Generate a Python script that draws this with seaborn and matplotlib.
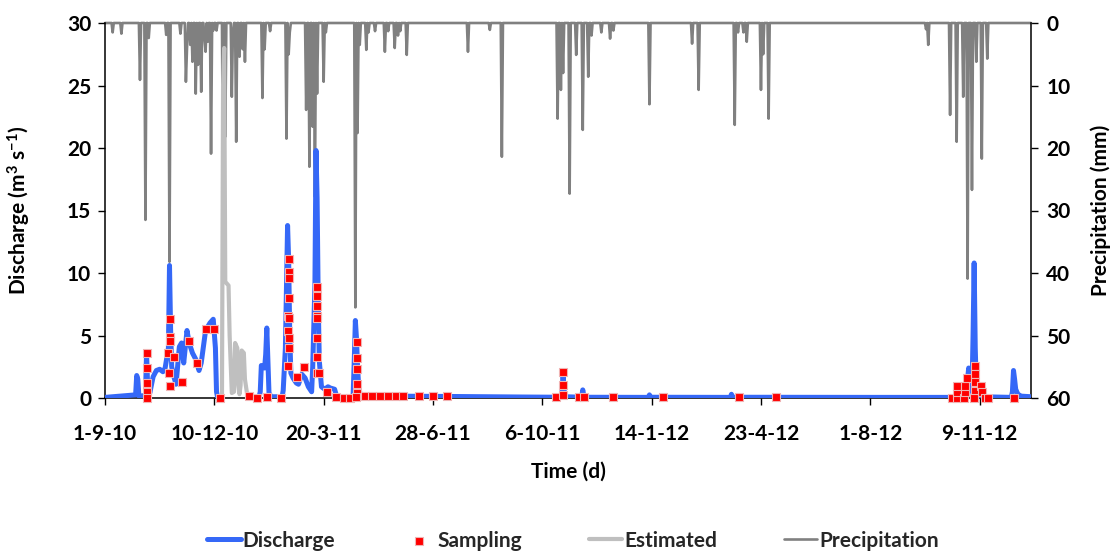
import numpy as np
import pandas as pd
import matplotlib
matplotlib.use("Agg")
import matplotlib.pyplot as plt
import seaborn as sns

# ---------------------------------------------------------------------------
# Data: days counted from 1 Sep 2010
# ---------------------------------------------------------------------------
START = pd.Timestamp("2010-09-01")
LAST_DAY = 847

# Measured discharge (m3 s-1); NaN marks the gap filled by the estimate
discharge_day = [0, 28, 29, 30, 31, 37, 38, 39, 41, 44, 47, 50, 53, 55, 58, 59, 60, 61, 63, 65,
                 68, 70, 72, 75, 77, 80, 83, 86, 88, 92, 96, 99, 101, 102, 103, 105, 106,
                 131, 141, 142, 143, 146, 147, 148, 149, 150, 152, 162, 163, 165, 167, 168, 169,
                 170, 172, 175, 177, 180, 183, 186, 189, 190, 192, 193, 194, 195, 196, 198, 201,
                 204, 206, 210, 212, 226, 227, 228, 229, 230, 231, 232, 233, 236, 260, 320, 380,
                 417, 418, 419, 420, 421, 436, 437, 438, 440, 497, 498, 499, 572, 573, 574, 700,
                 786, 788, 789, 790, 791, 793, 794, 795, 796, 797, 799, 802, 829, 830, 831, 832,
                 833, 835, 838, 847]
discharge_q = [0.05, 0.25, 1.8, 1.5, 0.15, 0.2, 3.6, 1.0, 0.4, 1.7, 2.2, 2.3, 2.1, 2.4, 4.0, 10.6, 5.5, 2.5, 1.7, 1.1,
               4.1, 4.4, 2.8, 5.4, 4.4, 3.6, 3.1, 2.2, 2.8, 5.4, 6.0, 6.3, 4.0, 0.5, 0.05, 0.05, np.nan,
               0.1, 0.1, 0.5, 2.6, 2.4, 3.5, 5.6, 3.0, 0.4, 0.1, 0.1, 0.6, 4.0, 13.8, 11.0, 5.0,
               2.0, 1.6, 1.2, 1.1, 1.9, 1.6, 0.9, 0.5, 2.5, 9.0, 19.8, 16.0, 8.0, 3.0, 0.9, 0.7,
               0.9, 0.8, 0.7, 0.1, 0.1, 0.3, 3.0, 6.2, 4.8, 2.5, 1.0, 0.4, 0.2, 0.15, 0.12, 0.08,
               0.06, 0.4, 1.9, 0.6, 0.1, 0.06, 0.65, 0.15, 0.06, 0.05, 0.25, 0.06, 0.05, 0.3, 0.06, 0.05,
               0.05, 0.3, 1.5, 2.4, 1.0, 0.5, 5.0, 10.8, 4.0, 0.8, 0.2, 0.1, 0.05, 0.5, 2.2, 1.5,
               0.7, 0.3, 0.15, 0.1]

# Estimated discharge during the logger gap (m3 s-1)
estimated_day = [105, 107, 108, 109, 110, 113, 114, 116, 118, 119, 121, 122, 123, 124, 125, 127, 128, 130, 131]
estimated_q = [0.05, 0.2, 25.0, 28.0, 9.3, 9.0, 5.0, 0.4, 0.5, 4.4, 4.0, 1.0, 0.3, 1.0, 3.8, 3.6, 1.5, 0.3, 0.1]

# Sampling events (day, discharge at sampling)
sampling_day = [38.4, 38.4, 38.4, 38.4, 38.4,
                59.4, 59.6, 59.8, 58.0, 63.1, 58.8, 59.8,
                70.1, 77.1, 84.4, 92.4, 99.7, 105.2,
                131.7, 139.0, 148.4, 161.0,
                168.0, 168.2, 168.3, 168.0, 167.8, 168.3, 167.8, 168.0, 167.9, 167.6,
                175.3, 182.0,
                193.5, 193.5, 193.6, 193.6, 193.5, 193.6, 193.6, 193.6, 196.0,
                202.7, 211.2, 218.6, 224.0,
                230.6, 230.6, 230.6, 230.4, 230.4, 229.8,
                237.8, 243.9, 251.5, 259.1, 266.1, 272.8, 287.4, 299.7, 313.0,
                412.4, 419.1, 419.1, 419.1, 433.7, 438.0, 464.8, 510.0, 579.8, 613.4,
                774.5, 778.9, 779.5, 779.5, 786.0, 787.0, 787.0, 788.5, 795.5, 795.5, 795.5, 795.5,
                795.0, 801.5, 802.5, 804.5, 808.0, 831.0]
sampling_q = [3.6, 2.4, 1.2, 0.5, 0.0,
              6.3, 4.9, 4.6, 3.6, 3.3, 2.0, 1.0,
              1.3, 4.6, 2.8, 5.5, 5.5, 0.0,
              0.15, 0.0, 0.05, 0.0,
              11.1, 10.1, 9.6, 8.0, 6.6, 6.4, 5.4, 4.8, 4.0, 2.6,
              1.7, 2.5,
              8.85, 8.2, 7.4, 6.6, 6.4, 4.8, 3.3, 2.0, 2.0,
              0.5, 0.05, 0.0, 0.0,
              4.5, 3.2, 2.3, 1.1, 0.4, 0.1,
              0.15, 0.15, 0.15, 0.15, 0.15, 0.15, 0.15, 0.15, 0.15,
              0.05, 2.1, 1.04, 0.24, 0.05, 0.05, 0.05, 0.05, 0.05, 0.05,
              0.0, 0.0, 0.5, 1.0, 0.0, 0.5, 1.0, 1.6, 2.6, 1.9, 1.3, 0.6,
              0.0, 1.0, 0.5, 0.0, 0.0, 0.0]

# Daily precipitation (mm); days not listed had no rain
rain_day = [7, 15, 32, 37, 40, 56, 59, 69, 74, 75, 78, 80, 83, 85, 88, 91, 92, 94, 97, 99, 102,
            108, 110, 116, 117, 120, 123, 126, 128, 144, 146, 151, 166, 168, 169, 184, 187, 190,
            192, 194, 200, 202, 229, 231, 233, 239, 241, 247, 256, 259, 265, 268, 270, 276, 332,
            352, 363, 414, 417, 419, 425, 431, 437, 442, 445, 454, 462, 465, 498, 537, 543, 576,
            579, 584, 587, 600, 602, 607, 751, 753, 773, 779, 785, 789, 793, 797, 802, 807]
rain_mm = [1.5, 1.7, 9.1, 31.5, 2.4, 1.9, 38.2, 1.7, 9.4, 4.1, 3.5, 6.2, 11.3, 6.7, 11.0, 2.5, 4.6, 3.0, 20.9, 1.2, 1.2,
           28.0, 18.2, 11.8, 1.5, 19.0, 5.4, 4.2, 6.2, 12.0, 4.2, 1.3, 18.5, 5.0, 1.5, 13.9, 23.0, 16.6,
           27.8, 11.3, 9.4, 1.5, 45.5, 17.6, 3.5, 4.3, 1.5, 1.3, 4.6, 1.3, 4.0, 2.0, 1.3, 5.1, 4.6,
           1.1, 21.4, 15.3, 10.7, 8.0, 27.3, 5.1, 17.1, 8.6, 2.0, 1.5, 2.5, 1.2, 13.0, 3.3, 10.7, 16.3,
           1.5, 1.5, 3.0, 10.7, 5.0, 15.3, 1.0, 3.5, 14.7, 19.0, 11.8, 40.9, 26.7, 6.2, 21.7, 5.7]

tick_labels = ["1-9-10", "10-12-10", "20-3-11", "28-6-11", "6-10-11",
               "14-1-12", "23-4-12", "1-8-12", "9-11-12"]

# ---------------------------------------------------------------------------
# Tables for seaborn
# ---------------------------------------------------------------------------
def to_dates(days):
    return START + pd.to_timedelta(np.asarray(days, dtype=float), unit="D")

dis = pd.DataFrame({"day": discharge_day, "q": discharge_q})
dis["segment"] = dis["q"].isna().cumsum()
dis = dis.dropna()
dis["date"] = to_dates(dis["day"])

est = pd.DataFrame({"date": to_dates(estimated_day), "q": estimated_q})
smp = pd.DataFrame({"date": to_dates(sampling_day), "q": sampling_q})

rain_daily = pd.Series(0.0, index=np.arange(LAST_DAY + 1))
rain_daily.loc[rain_day] = rain_mm
rain = pd.DataFrame({"date": to_dates(rain_daily.index), "mm": rain_daily.values})

# ---------------------------------------------------------------------------
# Figure
# ---------------------------------------------------------------------------
sns.set_theme(style="white")
plt.rcParams["font.family"] = ["Lato", "DejaVu Sans"]
plt.rcParams["font.weight"] = "bold"
plt.rcParams["mathtext.default"] = "regular"

FS = 15
BLUE = "#3568F7"
EST = "#BFBFBF"
RAIN = "#808080"

fig = plt.figure(figsize=(11.15, 5.54), dpi=100)
ax = fig.add_axes([105 / 1115, 1 - 398 / 554, 926 / 1115, 375 / 554])
ax2 = ax.twinx()
# discharge axis drawn in front of the precipitation axis
ax.set_zorder(ax2.get_zorder() + 1)
ax.patch.set_visible(False)

sns.lineplot(data=est, x="date", y="q", ax=ax, color=EST, lw=3.0,
             estimator=None, sort=False, label="Estimated", zorder=2)
sns.lineplot(data=dis, x="date", y="q", units="segment", estimator=None, sort=False,
             ax=ax, color=BLUE, lw=3.6, label="Discharge", zorder=3)
sns.scatterplot(data=smp, x="date", y="q", ax=ax, marker="s", s=36, color="#FF0000",
                edgecolor="#F0B4B4", linewidth=0.8, label="Sampling", zorder=5, clip_on=False)
sns.lineplot(data=rain, x="date", y="mm", ax=ax2, color=RAIN, lw=1.9,
             estimator=None, sort=False, label="Precipitation", clip_on=False)

# Axes limits and ticks
ax.set_xlim(START, START + pd.Timedelta(days=LAST_DAY))
ax.set_ylim(0, 30)
ax2.set_ylim(60, 0)
ax.set_yticks(np.arange(0, 31, 5))
ax2.set_yticks(np.arange(0, 61, 10))
tick_dates = pd.to_datetime(tick_labels, format="%d-%m-%y")
ax.set_xticks(tick_dates)
ax.set_xticklabels(tick_labels)

for a in (ax, ax2):
    for s in a.spines.values():
        s.set_visible(False)
ax.spines["left"].set_visible(True)
ax.spines["bottom"].set_visible(True)
ax2.spines["right"].set_visible(True)
for s in (ax.spines["left"], ax.spines["bottom"], ax2.spines["right"]):
    s.set_color("black")
    s.set_linewidth(1.1)

ax.tick_params(axis="x", which="both", bottom=True, length=5, width=1, color="black",
               direction="out", pad=14, labelsize=FS, labelcolor="black")
ax.tick_params(axis="y", left=True, length=5, width=1, color="black", direction="out",
               pad=5, labelsize=FS, labelcolor="black")
ax2.tick_params(axis="y", right=True, length=5, width=1, color="black", direction="out",
                pad=6, labelsize=FS, labelcolor="black")
for lab in ax.get_xticklabels() + ax.get_yticklabels() + ax2.get_yticklabels():
    lab.set_fontweight("bold")

ax.set_xlabel("Time (d)", fontsize=FS, fontweight="bold", color="black")
ax.set_ylabel("Discharge (m$^{3}$ s$^{-1}$)", fontsize=FS, fontweight="bold", color="black")
ax2.set_ylabel("Precipitation (mm)", fontsize=FS, fontweight="bold", color="black")
ax.xaxis.set_label_coords(0.5, -0.17)
ax.yaxis.set_label_coords(-0.078, 0.5)
ax2.yaxis.set_label_coords(1.064, 0.5)

# Shared legend below the plot
h1, l1 = ax.get_legend_handles_labels()
h2, l2 = ax2.get_legend_handles_labels()
handles = dict(zip(l1 + l2, h1 + h2))
order = ["Discharge", "Sampling", "Estimated", "Precipitation"]
for a in (ax, ax2):
    if a.get_legend() is not None:
        a.get_legend().remove()
fig.legend([handles[k] for k in order], order, loc="center", bbox_to_anchor=(0.514, 0.024),
           ncol=4, frameon=False, handlelength=1.6, handletextpad=0.1,
           columnspacing=3.2, prop={"weight": "bold", "size": FS})

fig.savefig("out.png", dpi=100)
